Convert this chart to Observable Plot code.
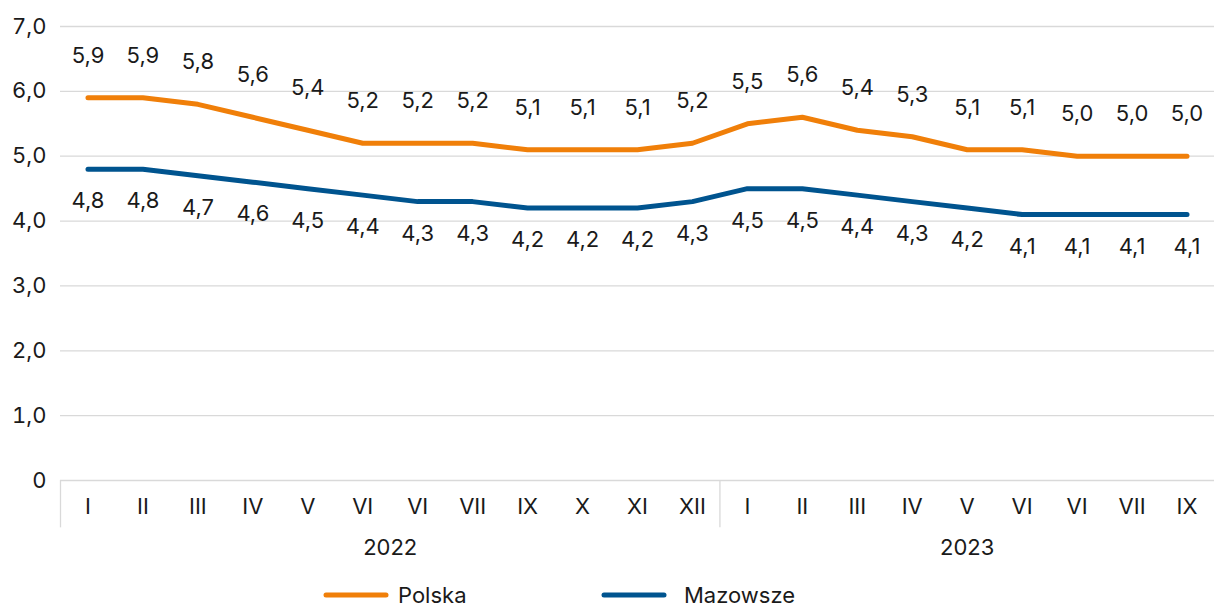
<!DOCTYPE html>
<html>
<head>
<meta charset="utf-8">
<script src="https://cdn.jsdelivr.net/npm/d3@7"></script>
<script src="https://cdn.jsdelivr.net/npm/@observablehq/plot@0.6"></script>
<style>
  html, body { margin: 0; padding: 0; background: #fff; }
  body { width: 1214px; height: 610px; overflow: hidden; font-family: Inter, "Noto Sans", sans-serif; color: #1a1a1a; }
  #legend { position: relative; height: 35px; font-size: 22px; }
  .item { position: absolute; top: 7px; display: flex; align-items: center; }
  .item svg { display: block; }
</style>
</head>
<body>
<div id="chart"></div>
<div id="legend"></div>
<script>
// ---- data ----
const monthLabels = ["I","II","III","IV","V","VI","VI","VII","IX","X","XI","XII",
                     "I","II","III","IV","V","VI","VI","VII","IX"];
const monthYears = [2022,2022,2022,2022,2022,2022,2022,2022,2022,2022,2022,2022,
                    2023,2023,2023,2023,2023,2023,2023,2023,2023];
const polska   = [5.9,5.9,5.8,5.6,5.4,5.2,5.2,5.2,5.1,5.1,5.1,5.2,5.5,5.6,5.4,5.3,5.1,5.1,5.0,5.0,5.0];
const mazowsze = [4.8,4.8,4.7,4.6,4.5,4.4,4.3,4.3,4.2,4.2,4.2,4.3,4.5,4.5,4.4,4.3,4.2,4.1,4.1,4.1,4.1];
const seriesNames = ["Polska", "Mazowsze"];
const yTicks = [0,1,2,3,4,5,6,7];

// ---- derived tables ----
const colors = {Polska: "#F07F09", Mazowsze: "#00548F"};
const pl = polska.map((v, i) => ({i, v}));
const mz = mazowsze.map((v, i) => ({i, v}));
const years = Array.from(d3.group(monthLabels.map((m, i) => ({i, y: monthYears[i]})), d => d.y),
  ([y, arr]) => ({year: String(y), pos: d3.mean(arr, d => d.i), start: d3.min(arr, d => d.i) - 0.5}));
const fmt = v => v === 0 ? "0" : v.toFixed(1).replace(".", ",");

const fs = 22;
const chart = Plot.plot({
  width: 1214,
  height: 575,
  marginLeft: 60,
  marginRight: 0,
  marginTop: 26,
  marginBottom: 95,
  style: {fontFamily: "Inter, 'Noto Sans', sans-serif", fontSize: fs + "px", color: "#1a1a1a", background: "#fff"},
  x: {type: "linear", domain: [-0.5, monthLabels.length - 0.5]},
  y: {domain: [0, 7]},
  marks: [
    Plot.ruleY(yTicks, {stroke: "#d9d9d9", strokeWidth: 1.3}),
    Plot.ruleX(years, {x: "start", y1: 0, y2: -0.73, stroke: "#d9d9d9", strokeWidth: 1.3}),
    Plot.axisY({ticks: yTicks, tickFormat: fmt, tickSize: 0, tickPadding: 14, label: null, fontSize: fs}),
    Plot.axisX({ticks: d3.range(monthLabels.length), tickFormat: i => monthLabels[i], tickSize: 0, tickPadding: 18, label: null, fontSize: fs}),
    Plot.text(years, {x: "pos", y: 0, text: "year", dy: 67, fontSize: fs}),
    Plot.line(pl, {x: "i", y: "v", stroke: colors.Polska, strokeWidth: 5, strokeLinecap: "round", strokeLinejoin: "round"}),
    Plot.line(mz, {x: "i", y: "v", stroke: colors.Mazowsze, strokeWidth: 5, strokeLinecap: "round", strokeLinejoin: "round"}),
    Plot.text(pl, {x: "i", y: "v", text: d => fmt(d.v), dy: -42, fontSize: fs, fill: "#1a1a1a"}),
    Plot.text(mz, {x: "i", y: "v", text: d => fmt(d.v), dy: 32, fontSize: fs, fill: "#1a1a1a"})
  ]
});
document.getElementById("chart").appendChild(chart);

// ---- legend ----
const legend = document.getElementById("legend");
const legendLeft = {Polska: 322, Mazowsze: 600};
const legendGap = {Polska: 8, Mazowsze: 16};
seriesNames.forEach(name => {
  const item = document.createElement("div");
  item.className = "item";
  item.style.left = legendLeft[name] + "px";
  item.innerHTML = `<svg width="68" height="10"><line x1="4" y1="5" x2="64" y2="5" stroke="${colors[name]}" stroke-width="5" stroke-linecap="round"/></svg><span style="margin-left:${legendGap[name]}px">${name}</span>`;
  legend.appendChild(item);
});
</script>
</body>
</html>
